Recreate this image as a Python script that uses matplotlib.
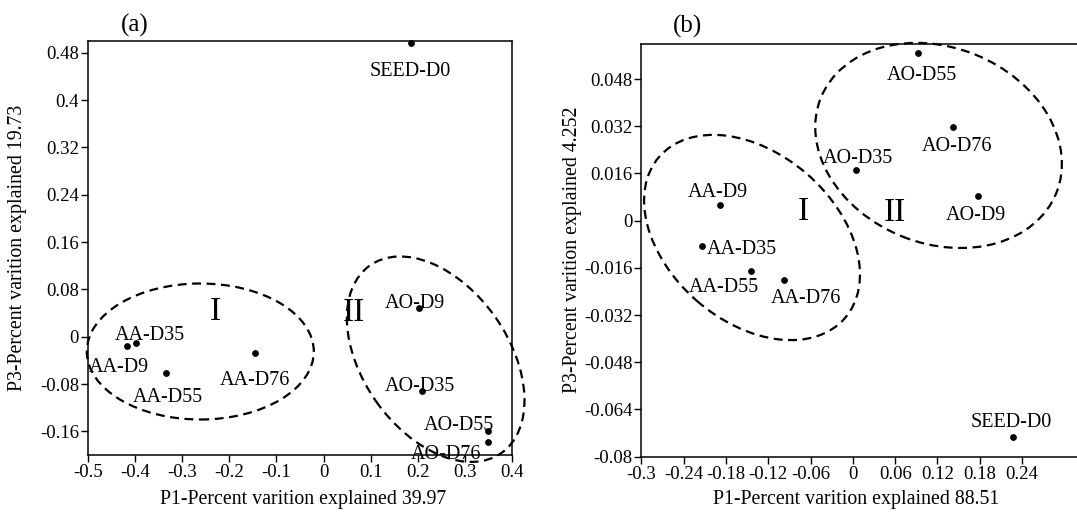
import matplotlib
matplotlib.use("Agg")
import matplotlib.pyplot as plt
from matplotlib.patches import Ellipse
from matplotlib.transforms import ScaledTranslation
from matplotlib.ticker import FuncFormatter, MultipleLocator

plt.rcParams['font.family'] = ['Liberation Serif', 'DejaVu Serif']

# ---- data: panel (a) ----
a_names = ['SEED-D0', 'AA-D9', 'AA-D35', 'AA-D55', 'AA-D76',
           'AO-D9', 'AO-D35', 'AO-D55', 'AO-D76']
a_p1 = [0.185, -0.417, -0.398, -0.335, -0.145, 0.203, 0.208, 0.348, 0.348]
a_p3 = [0.497, -0.015, -0.011, -0.062, -0.028, 0.048, -0.092, -0.160, -0.178]

# ---- data: panel (b) ----
b_names = ['SEED-D0', 'AA-D9', 'AA-D35', 'AA-D55', 'AA-D76',
           'AO-D9', 'AO-D35', 'AO-D55', 'AO-D76']
b_p1 = [0.227, -0.188, -0.214, -0.145, -0.097, 0.178, 0.005, 0.0925, 0.142]
b_p3 = [-0.0733, 0.0053, -0.0087, -0.017, -0.020, 0.0085, 0.0171, 0.0567, 0.0317]

a_xlabel = 'P1-Percent varition explained 39.97'
a_ylabel = 'P3-Percent varition explained 19.73'
b_xlabel = 'P1-Percent varition explained 88.51'
b_ylabel = 'P3-Percent varition explained 4.252'

# label offsets in pixels (dx right, dy down) and horizontal alignment
a_offsets = {'SEED-D0': (0, 33, 'center'), 'AA-D9': (-8, 26, 'center'),
             'AA-D35': (14, -3, 'center'), 'AA-D55': (2, 29, 'center'),
             'AA-D76': (0, 32, 'center'), 'AO-D9': (-4, 0, 'center'),
             'AO-D35': (-2, 0, 'center'), 'AO-D55': (-29, -1, 'center'),
             'AO-D76': (-41, 17, 'center')}
b_offsets = {'SEED-D0': (-2, -10, 'center'), 'AA-D9': (-2, -8, 'center'),
             'AA-D35': (5, 8, 'left'), 'AA-D55': (-27, 21, 'center'),
             'AA-D76': (22, 23, 'center'), 'AO-D9': (-2, 24, 'center'),
             'AO-D35': (2, -7, 'center'), 'AO-D55': (4, 27, 'center'),
             'AO-D76': (4, 24, 'center')}

PX = 0.72  # points per pixel at dpi 100


def fmt(v, pos):
    s = ('%.3f' % v).rstrip('0').rstrip('.')
    if s in ('-0', ''):
        s = '0'
    return s


def style_axes(ax):
    for sp in ax.spines.values():
        sp.set_linewidth(1.1)
    ax.tick_params(direction='out', length=5, width=1, labelsize=13.5,
                   top=False, right=False, pad=1.5)
    ax.xaxis.set_major_formatter(FuncFormatter(fmt))
    ax.yaxis.set_major_formatter(FuncFormatter(fmt))


def add_ellipse(fig, ax, cx, cy, w_px, h_px, angle):
    tr = fig.dpi_scale_trans + ScaledTranslation(cx, cy, ax.transData)
    e = Ellipse((0, 0), w_px / 100, h_px / 100, angle=angle, transform=tr,
                fill=False, edgecolor='black', linewidth=1.6,
                linestyle=(0, (4, 2.5)), clip_on=False)
    ax.add_patch(e)


def label_points(ax, names, xs, ys, offsets):
    for n, x, y in zip(names, xs, ys):
        dx, dy, ha = offsets[n]
        ax.annotate(n, (x, y), xytext=(dx * PX, -dy * PX),
                    textcoords='offset points', ha=ha, va='baseline',
                    fontsize=14.5, annotation_clip=False)


fig = plt.figure(figsize=(10.77, 5.23), dpi=100)

# ---- panel (a) ----
ax1 = fig.add_axes([0.0817, 0.130, 0.3937, 0.7916])
ax1.scatter(a_p1, a_p3, s=15, color='black', zorder=3, clip_on=False)
ax1.set_xlim(-0.5, 0.4)
ax1.set_ylim(-0.2, 0.5)
ax1.xaxis.set_major_locator(MultipleLocator(0.1))
ax1.set_yticks([-0.16, -0.08, 0, 0.08, 0.16, 0.24, 0.32, 0.4, 0.48])
style_axes(ax1)
ax1.set_xlabel(a_xlabel, fontsize=14.3)
ax1.set_ylabel(a_ylabel, fontsize=14.3)
ax1.xaxis.set_label_coords(0.507, -0.085)
ax1.yaxis.set_label_coords(-0.144, 0.5)
label_points(ax1, a_names, a_p1, a_p3, a_offsets)
add_ellipse(fig, ax1, -0.2616, -0.025, 227, 136, 0)
add_ellipse(fig, ax1, 0.238, -0.038, 229, 146, -55)
ax1.text(-0.2297, 0.029, 'I', fontsize=24, ha='center', va='baseline')
ax1.text(0.065, 0.0263, 'II', fontsize=24, ha='center', va='baseline')
fig.text(134.7 / 1077, 1 - 25 / 523, '(a)', fontsize=18, ha='center', va='center')

# ---- panel (b) ----
ax2 = fig.add_axes([0.5955, 0.1268, 0.432, 0.7897])
ax2.scatter(b_p1, b_p3, s=15, color='black', zorder=3, clip_on=False)
ax2.set_xlim(-0.3, 0.36)
ax2.set_ylim(-0.08, 0.06)
ax2.set_xticks([-0.3, -0.24, -0.18, -0.12, -0.06, 0, 0.06, 0.12, 0.18, 0.24])
ax2.set_yticks([-0.08, -0.064, -0.048, -0.032, -0.016, 0, 0.016, 0.032, 0.048])
style_axes(ax2)
ax2.spines['right'].set_visible(False)
ax2.set_xlabel(b_xlabel, fontsize=14.3)
ax2.set_ylabel(b_ylabel, fontsize=14.3)
ax2.xaxis.set_label_coords(0.461, -0.081)
ax2.yaxis.set_label_coords(-0.127, 0.5)
label_points(ax2, b_names, b_p1, b_p3, b_offsets)
add_ellipse(fig, ax2, -0.143, -0.0057, 246, 168, -41)
add_ellipse(fig, ax2, 0.1216, 0.0255, 254, 196, -22)
ax2.text(-0.0702, 0.0003, 'I', fontsize=24, ha='center', va='baseline')
ax2.text(0.0592, -0.0002, 'II', fontsize=24, ha='center', va='baseline')
fig.text(687.8 / 1077, 1 - 26 / 523, '(b)', fontsize=18, ha='center', va='center')

fig.savefig('out.png', dpi=100)
